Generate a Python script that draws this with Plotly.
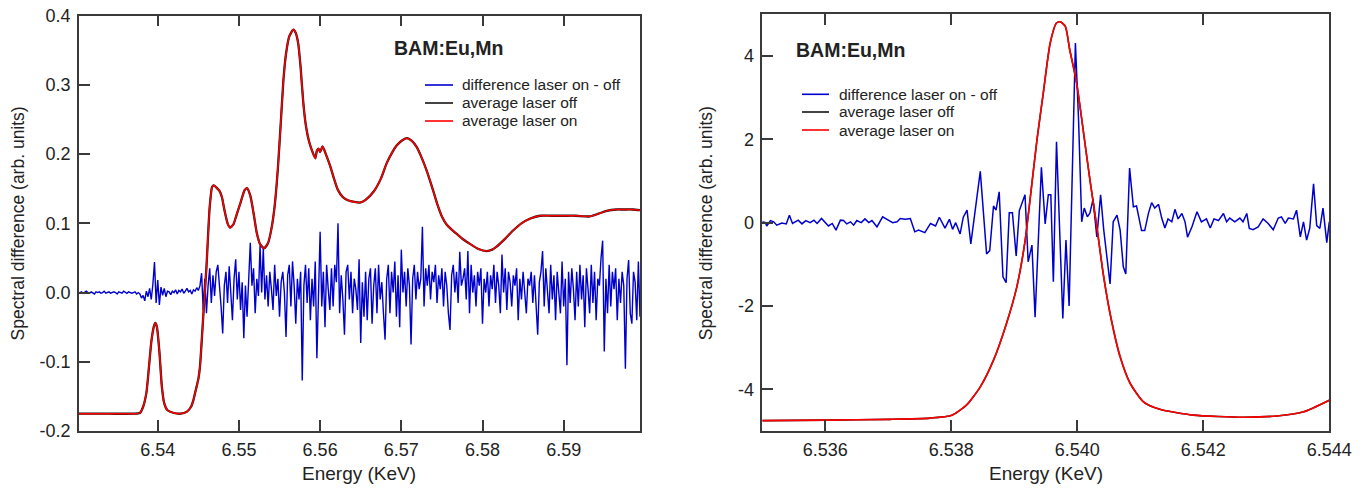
import numpy as np
import plotly.graph_objects as go

FONT = "Arial, Liberation Sans, sans-serif"
BLUE = "rgb(0,0,205)"
RED = "rgb(255,0,0)"
BLACK = "rgb(20,20,20)"
AXC = "#3a3a3a"
TXT = "#222222"

# ---------------- Left panel data ----------------
# difference laser on - off, sampled every 0.0002 keV starting at 6.5304 keV
DIFF_L_E_START = 6.5304
DIFF_L_E_STEP = 0.0002
DIFF_L_SEG_A = [0.000, 0.001, -0.001, 0.000, 0.002, 0.000, -0.001, 0.001, 0.000, -0.002,
                0.001, 0.000, 0.001, -0.001, 0.000, 0.002, -0.001, 0.000, 0.001, -0.001,
                0.000, 0.001, 0.000, -0.002, 0.001, 0.000, -0.001, 0.002, 0.000, -0.001,
                0.001, 0.000, -0.001, 0.000, 0.001, -0.002, 0.000]
DIFF_L_SEG_B = [-0.002, -0.008, -0.004, -0.012, 0.002, -0.006, 0.006, -0.010, 0.012, 0.044,
                -0.015, 0.018, -0.018, 0.008, -0.004, 0.006, -0.006, 0.002]
DIFF_L_SEG_C = [0.001, -0.003, 0.002, 0.000, 0.004, -0.002, 0.003, 0.001, 0.005, -0.001,
                0.002, 0.006, 0.001, 0.003, -0.002, 0.004, 0.002, 0.007, 0.003, 0.010, 0.028]
DIFF_L_SEG_D = [
    -0.025, 0.020, -0.030, 0.010, 0.035, -0.015, 0.025, -0.005, 0.030, 0.040,
    0.015, -0.020, -0.059, 0.010, 0.030, -0.015, 0.038, 0.005, -0.040, 0.020,
    0.048, -0.010, 0.030, -0.025, 0.015, -0.066, 0.010, -0.035, 0.025, 0.072,
    0.010, 0.035, -0.030, 0.020, -0.005, 0.068, 0.000, 0.064, -0.010, 0.025,
    -0.020, 0.030, 0.005, -0.025, 0.040, -0.005, 0.020, -0.035, 0.015, 0.030,
    0.000, -0.064, 0.025, 0.040, -0.020, 0.045, 0.010, -0.045, 0.020, -0.010,
    0.030, -0.127, 0.010, 0.040, -0.015, 0.035, -0.040, 0.020, -0.020, 0.045,
    -0.095, 0.015, 0.088, -0.020, 0.030, -0.050, 0.040, 0.005, -0.025, 0.035,
    -0.020, 0.040, 0.015, 0.100, -0.030, 0.025, -0.010, -0.061, 0.030, 0.040,
    -0.010, 0.030, -0.030, 0.020, 0.005, -0.025, 0.048, -0.073, 0.015, -0.035,
    0.030, -0.040, 0.020, 0.035, -0.045, 0.010, 0.035, -0.030, 0.040, -0.010,
    0.015, -0.030, -0.068, 0.020, 0.040, -0.030, 0.030, 0.000, 0.045, -0.035,
    0.025, -0.050, 0.062, 0.000, 0.030, -0.020, 0.035, 0.010, -0.075, 0.020,
    0.040, -0.010, 0.030, 0.005, 0.020, 0.095, -0.020, 0.035, 0.010, 0.040,
    -0.010, 0.030, 0.015, 0.040, -0.015, 0.025, 0.005, 0.035, -0.020, 0.030,
    0.010, -0.030, -0.054, 0.025, 0.040, 0.000, 0.030, -0.015, 0.059, 0.010,
    0.020, 0.035, -0.010, 0.060, -0.030, 0.040, 0.000, 0.025, -0.020, 0.030,
    0.010, 0.035, -0.045, 0.020, 0.000, 0.030, -0.020, 0.025, 0.005, 0.040,
    -0.015, 0.030, 0.010, -0.030, 0.055, 0.000, 0.035, -0.025, 0.030, 0.015,
    -0.020, 0.025, 0.010, 0.035, -0.040, 0.020, -0.010, 0.030, 0.000, -0.030,
    0.020, 0.010, 0.030, -0.015, 0.025, -0.030, -0.061, 0.015, 0.030, 0.060,
    -0.020, 0.035, 0.005, -0.030, 0.040, -0.010, 0.025, -0.040, 0.030, 0.000,
    -0.030, 0.045, -0.020, 0.020, -0.105, 0.030, -0.015, 0.035, 0.005, -0.040,
    0.030, -0.020, 0.040, -0.010, 0.025, -0.050, 0.035, 0.005, -0.030, 0.040,
    -0.015, 0.030, -0.040, 0.020, 0.010, 0.050, 0.075, -0.085, 0.020, -0.030,
    0.040, -0.020, 0.030, 0.005, 0.035, -0.040, 0.020, -0.015, 0.030, 0.010,
    -0.110, 0.020, 0.047, -0.030, -0.045, 0.030, 0.015, -0.040, 0.045, -0.035,
]
DIFF_L = DIFF_L_SEG_A + DIFF_L_SEG_B + DIFF_L_SEG_C + DIFF_L_SEG_D
DIFF_L_E = DIFF_L_E_START + DIFF_L_E_STEP * np.arange(len(DIFF_L))

# average spectra (laser on / off overlap)
AVG_L_E = [6.5303, 6.5340, 6.5370, 6.5378, 6.5382, 6.5386, 6.5389, 6.5392, 6.5395, 6.5397,
           6.5399, 6.5402, 6.5405, 6.5408, 6.5412, 6.5420, 6.5428, 6.5436, 6.5441, 6.5444,
           6.5447, 6.5450, 6.5452, 6.5456, 6.5460, 6.5464, 6.5467, 6.5469, 6.5472, 6.5476,
           6.5479, 6.5482, 6.5486, 6.5489, 6.5493, 6.5497, 6.5502, 6.5507, 6.5510, 6.5514,
           6.5518, 6.5522, 6.5526, 6.5531, 6.5536, 6.5540, 6.5544, 6.5548, 6.5552, 6.5555,
           6.5558, 6.5562, 6.5567, 6.5570, 6.5573, 6.5576, 6.5579, 6.5582, 6.5586, 6.5590,
           6.5594, 6.5596, 6.5598, 6.5600, 6.5603, 6.5607, 6.5612, 6.5617, 6.5622, 6.5628,
           6.5635, 6.5642, 6.5649, 6.5656, 6.5666, 6.5675, 6.5682, 6.5689, 6.5694, 6.5700,
           6.5707, 6.5713, 6.5719, 6.5725, 6.5731, 6.5738, 6.5744, 6.5750, 6.5756, 6.5762,
           6.5768, 6.5776, 6.5785, 6.5795, 6.5805, 6.5812, 6.5817, 6.5828, 6.5838, 6.5848,
           6.5859, 6.5871, 6.5885, 6.5900, 6.5915, 6.5932, 6.5943, 6.5953, 6.5965, 6.5973,
           6.5985, 6.5994]
AVG_ON_L = [-0.175, -0.175, -0.175, -0.174, -0.165, -0.145, -0.110, -0.072, -0.050, -0.044,
            -0.050, -0.085, -0.135, -0.160, -0.170, -0.174, -0.175, -0.172, -0.165, -0.155,
            -0.140, -0.125, -0.107, -0.035, 0.037, 0.124, 0.153, 0.155, 0.152, 0.147,
            0.138, 0.120, 0.100, 0.094, 0.098, 0.112, 0.130, 0.148, 0.151, 0.140,
            0.115, 0.086, 0.070, 0.064, 0.072, 0.092, 0.125, 0.180, 0.254, 0.310,
            0.345, 0.370, 0.380, 0.375, 0.360, 0.325, 0.278, 0.245, 0.220, 0.205,
            0.194, 0.205, 0.208, 0.203, 0.211, 0.200, 0.184, 0.165, 0.148, 0.138,
            0.133, 0.131, 0.130, 0.134, 0.146, 0.165, 0.187, 0.203, 0.212, 0.219,
            0.223, 0.219, 0.210, 0.195, 0.177, 0.152, 0.129, 0.110, 0.098, 0.091,
            0.085, 0.077, 0.070, 0.063, 0.060, 0.062, 0.066, 0.078, 0.090, 0.100,
            0.107, 0.111, 0.111, 0.111, 0.111, 0.110, 0.114, 0.118, 0.120, 0.120,
            0.120, 0.119]
AVG_OFF_L = AVG_ON_L  # laser-off average lies on top of the laser-on average

# ---------------- Right panel data ----------------
DIFF_R_E = [6.53500, 6.53505, 6.53507, 6.53513, 6.53518, 6.53523, 6.53531, 6.53538, 6.53543, 6.53548,
            6.53557, 6.53563, 6.53569, 6.53576, 6.53582, 6.53587, 6.53594, 6.53600, 6.53605, 6.53611,
            6.53617, 6.53624, 6.53629, 6.53634, 6.53640, 6.53645, 6.53650, 6.53657, 6.53663, 6.53669,
            6.53674, 6.53682, 6.53691, 6.53700, 6.53707, 6.53714, 6.53719, 6.53727, 6.53735, 6.53742,
            6.53748, 6.53758, 6.53767, 6.53775, 6.53781, 6.53790, 6.53797, 6.53802, 6.53807, 6.53814,
            6.53819, 6.53825, 6.53831, 6.53846, 6.53856, 6.53861, 6.53867, 6.53871, 6.53876, 6.53882,
            6.53887, 6.53892, 6.53897, 6.53903, 6.53908, 6.53917, 6.53922, 6.53928, 6.53933, 6.53943,
            6.53949, 6.53954, 6.53958, 6.53962, 6.53967, 6.53977, 6.53982, 6.53987, 6.53997, 6.54002,
            6.54007, 6.54011, 6.54016, 6.54020, 6.54025, 6.54031, 6.54037, 6.54042, 6.54052, 6.54057,
            6.54063, 6.54068, 6.54073, 6.54077, 6.54083, 6.54089, 6.54094, 6.54102, 6.54107, 6.54113,
            6.54118, 6.54123, 6.54129, 6.54134, 6.54139, 6.54144, 6.54150, 6.54155, 6.54160, 6.54166,
            6.54171, 6.54175, 6.54182, 6.54190, 6.54197, 6.54205, 6.54211, 6.54217, 6.54224, 6.54232,
            6.54237, 6.54242, 6.54250, 6.54258, 6.54263, 6.54269, 6.54273, 6.54279, 6.54287, 6.54295,
            6.54303, 6.54311, 6.54319, 6.54324, 6.54330, 6.54335, 6.54343, 6.54348, 6.54354, 6.54359,
            6.54364, 6.54369, 6.54375, 6.54380, 6.54385, 6.54390, 6.54396, 6.54400]
DIFF_R = [0.02, 0.00, -0.08, 0.05, 0.02, -0.06, -0.01, -0.03, 0.18, -0.02,
          0.06, -0.03, 0.05, 0.00, 0.06, -0.02, 0.10, 0.00, -0.08, -0.02,
          -0.18, 0.06, 0.05, -0.03, 0.02, -0.06, 0.05, 0.00, 0.09, 0.00,
          0.05, -0.10, 0.14, 0.06, 0.00, 0.02, 0.10, 0.08, 0.10, -0.22,
          -0.18, -0.24, -0.02, -0.08, 0.13, -0.13, 0.08, -0.16, 0.00, -0.27,
          0.13, 0.30, -0.51, 1.23, -0.75, -0.67, 0.40, 0.30, 0.74, -1.30,
          -1.44, 0.24, 0.24, -0.80, 0.29, 0.67, -0.94, -0.54, -2.27, 1.33,
          -0.03, 0.67, 0.67, -1.42, 1.94, -2.30, -0.42, -2.00, 4.31, 2.47,
          0.02, 0.35, 0.14, 0.23, 0.56, -0.34, 0.67, -0.18, -1.47, 0.02,
          0.18, -0.18, -1.06, -1.23, 1.31, 0.38, 0.40, -0.19, -0.19, 0.23,
          0.48, 0.35, 0.44, 0.11, -0.13, 0.09, 0.02, 0.32, 0.09, 0.22,
          0.02, -0.35, -0.10, 0.26, 0.02, 0.09, -0.13, 0.09, 0.05, 0.22,
          0.02, 0.11, 0.02, 0.11, 0.02, 0.22, -0.14, -0.17, -0.10, 0.09,
          -0.02, -0.17, 0.11, 0.14, -0.02, 0.11, 0.09, 0.30, -0.34, 0.02,
          -0.42, -0.13, 0.93, -0.07, -0.14, 0.35, -0.48, 0.02]

AVG_R_E = [6.53500, 6.53601, 6.53703, 6.53766, 6.53801, 6.53824, 6.53846, 6.53867, 6.53888, 6.53904,
           6.53917, 6.53925, 6.53936, 6.53946, 6.53957, 6.53967, 6.53973, 6.53981, 6.53988, 6.53999,
           6.54010, 6.54020, 6.54031, 6.54041, 6.54052, 6.54068, 6.54084, 6.54105, 6.54131, 6.54184,
           6.54263, 6.54317, 6.54359, 6.54400]
AVG_ON_R = [-4.75, -4.74, -4.72, -4.69, -4.62, -4.38, -3.94, -3.30, -2.40, -1.54,
            -0.45, 0.55, 1.99, 3.11, 4.31, 4.79, 4.82, 4.71, 4.15, 3.35,
            2.15, 1.03, -0.10, -1.21, -2.18, -3.22, -3.86, -4.30, -4.48, -4.62,
            -4.67, -4.64, -4.54, -4.26]
AVG_OFF_R = AVG_ON_R

# ticks
XT_L = [6.54, 6.55, 6.56, 6.57, 6.58, 6.59]
XT_L_TXT = ["6.54", "6.55", "6.56", "6.57", "6.58", "6.59"]
YT_L = [-0.2, -0.1, 0.0, 0.1, 0.2, 0.3, 0.4]
YT_L_TXT = ["-0.2", "-0.1", "0.0", "0.1", "0.2", "0.3", "0.4"]
XT_R = [6.536, 6.538, 6.540, 6.542, 6.544]
XT_R_TXT = ["6.536", "6.538", "6.540", "6.542", "6.544"]
YT_R = [-4, -2, 0, 2, 4]
YT_R_TXT = ["-4", "-2", "0", "2", "4"]

NAMES = ["difference laser on - off", "average laser off", "average laser on"]
LEG_COLORS = [BLUE, BLACK, RED]

fig = go.Figure()
# left
fig.add_trace(go.Scatter(x=DIFF_L_E, y=DIFF_L, mode="lines", name=NAMES[0],
                         line=dict(color=BLUE, width=1.4), xaxis="x", yaxis="y"))
fig.add_trace(go.Scatter(x=AVG_L_E, y=AVG_OFF_L, mode="lines", name=NAMES[1],
                         line=dict(color=BLACK, width=2.3, shape="spline", smoothing=0.6),
                         xaxis="x", yaxis="y"))
fig.add_trace(go.Scatter(x=AVG_L_E, y=AVG_ON_L, mode="lines", name=NAMES[2],
                         line=dict(color=RED, width=1.5, shape="spline", smoothing=0.6),
                         xaxis="x", yaxis="y"))
# right
fig.add_trace(go.Scatter(x=DIFF_R_E, y=DIFF_R, mode="lines", name=NAMES[0],
                         line=dict(color=BLUE, width=1.5), xaxis="x2", yaxis="y2"))
fig.add_trace(go.Scatter(x=AVG_R_E, y=AVG_OFF_R, mode="lines", name=NAMES[1],
                         line=dict(color=BLACK, width=1.6, shape="spline", smoothing=0.6),
                         xaxis="x2", yaxis="y2"))
fig.add_trace(go.Scatter(x=AVG_R_E, y=AVG_ON_R, mode="lines", name=NAMES[2],
                         line=dict(color=RED, width=1.6, shape="spline", smoothing=0.6),
                         xaxis="x2", yaxis="y2"))

W, H = 1366, 489
def px(v):
    return v / W
def py(v):
    return 1 - v / H

axis_common = dict(showline=True, linecolor=AXC, linewidth=1.5, ticks="inside",
                   ticklen=11, tickwidth=1.5, tickcolor=AXC, showgrid=False, zeroline=False,
                   automargin=False,
                   tickfont=dict(family=FONT, size=18, color=TXT), tickmode="array")

fig.update_layout(
    width=W, height=H, margin=dict(l=0, r=0, t=0, b=0, autoexpand=False),
    paper_bgcolor="white", plot_bgcolor="white",
    font=dict(family=FONT, color=TXT),
    showlegend=False,
    xaxis=dict(domain=[px(79), px(640)], range=[6.5303, 6.5994], anchor="y",
               tickvals=XT_L, ticktext=XT_L_TXT, mirror="ticks", ticklabelstandoff=2, **axis_common),
    yaxis=dict(domain=[py(431), py(15.7)], range=[-0.2, 0.4], anchor="x",
               tickvals=YT_L, ticktext=YT_L_TXT, mirror=True, ticklabelstandoff=3, **axis_common),
    xaxis2=dict(domain=[px(762.3), px(1329.3)], range=[6.535, 6.544], anchor="y2",
                tickvals=XT_R, ticktext=XT_R_TXT, mirror="ticks", ticklabelstandoff=2, **axis_common),
    yaxis2=dict(domain=[py(431), py(14.3)], range=[-5, 5], anchor="x2",
                tickvals=YT_R, ticktext=YT_R_TXT, mirror=True, ticklabelstandoff=3, **axis_common),
)

ann = [
    dict(text="<b>BAM:Eu,Mn</b>", x=px(448.5), y=py(48), font=dict(size=19.5)),
    dict(text="<b>BAM:Eu,Mn</b>", x=px(850), y=py(50), font=dict(size=19.5)),
    dict(text="Energy (KeV)", x=px(359.5), y=py(473), font=dict(size=19)),
    dict(text="Energy (KeV)", x=px(1045.8), y=py(473), font=dict(size=19)),
    dict(text="Spectral difference (arb. units)", x=px(18), y=py(223.4), textangle=-90, font=dict(size=17.5)),
    dict(text="Spectral difference (arb. units)", x=px(705.5), y=py(222.7), textangle=-90, font=dict(size=17.5)),
]
for a in ann:
    a.update(xref="paper", yref="paper", showarrow=False, xanchor="center", yanchor="middle")
    a["font"].update(family=FONT, color=TXT)
    fig.add_annotation(**a)

# legends (drawn as line samples + text)
LEGENDS = [dict(x0=425, x1=453, tx=460, rows=[85, 103, 121]),
           dict(x0=802, x1=829, tx=837, rows=[94.3, 112, 130])]
for lg in LEGENDS:
    for name, col, ry in zip(NAMES, LEG_COLORS, lg["rows"]):
        fig.add_shape(type="line", xref="paper", yref="paper",
                      x0=px(lg["x0"]), x1=px(lg["x1"]), y0=py(ry), y1=py(ry),
                      line=dict(color=col, width=1.6))
        fig.add_annotation(text=name, xref="paper", yref="paper", x=px(lg["tx"]), y=py(ry),
                           xanchor="left", yanchor="middle", showarrow=False,
                           font=dict(family=FONT, size=15.5, color=TXT))

fig.write_html("out.html", config={"displayModeBar": False},
               post_script="document.body.style.margin='0';document.body.style.padding='0';"
                           "document.documentElement.style.overflow='hidden';")
